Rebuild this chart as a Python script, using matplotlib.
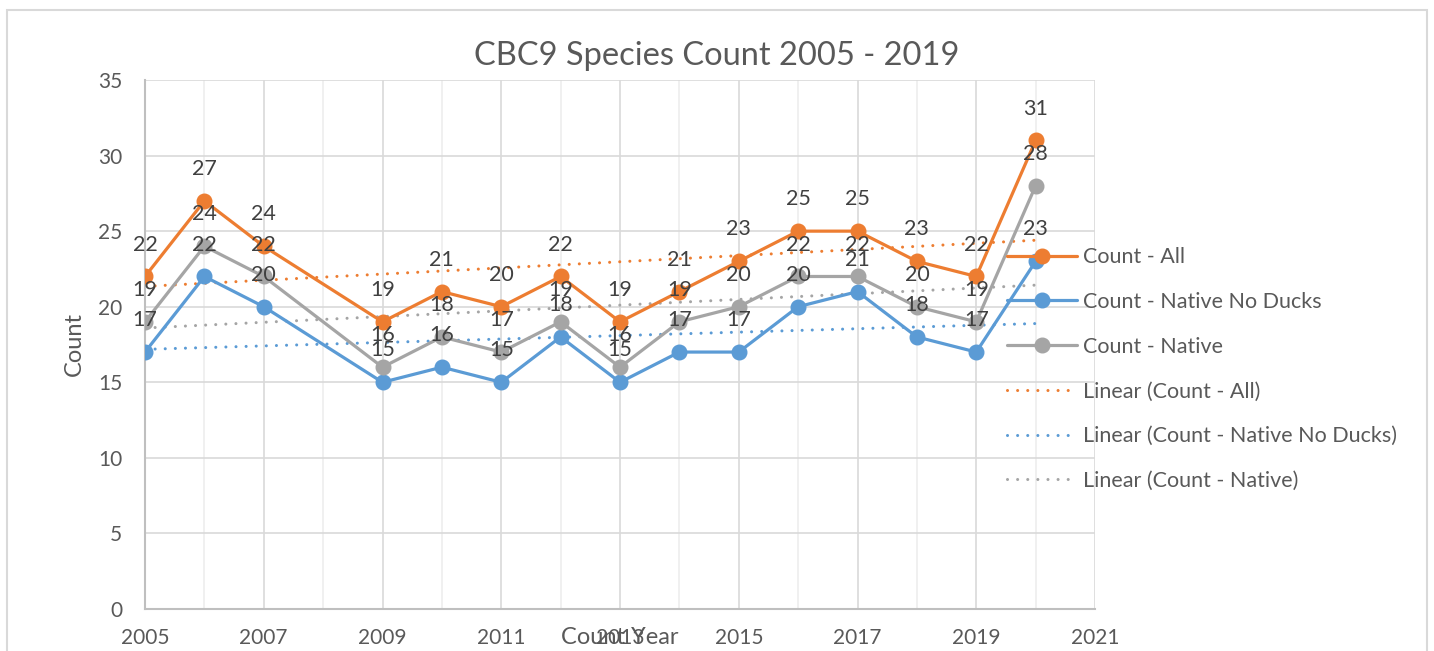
import matplotlib
matplotlib.use("Agg")
import matplotlib.pyplot as plt
from matplotlib.patches import Rectangle
import numpy as np

plt.rcParams['font.family'] = ['Lato', 'DejaVu Sans']

years = [2005, 2006, 2007, 2009, 2010, 2011, 2012, 2013, 2014, 2015, 2016, 2017, 2018, 2019, 2020]
count_all = [22, 27, 24, 19, 21, 20, 22, 19, 21, 23, 25, 25, 23, 22, 31]
count_native_no_ducks = [17, 22, 20, 15, 16, 15, 18, 15, 17, 17, 20, 21, 18, 17, 23]
count_native = [19, 24, 22, 16, 18, 17, 19, 16, 19, 20, 22, 22, 20, 19, 28]

series = [
    ("Count - All", count_all, "#ED7D31"),
    ("Count - Native No Ducks", count_native_no_ducks, "#5B9BD5"),
    ("Count - Native", count_native, "#A5A5A5"),
]

text_col = "#595959"
label_col = "#404040"

fig = plt.figure(figsize=(14.34, 6.51), dpi=100)
ax = fig.add_axes([145/1434, 1-609/651, 950/1434, 529/651])

# outer chart frame
fig.patches.append(Rectangle((7/1434, -0.05), 1420/1434, 1.05 - 10/651,
                             transform=fig.transFigure, fill=False,
                             edgecolor="#D9D9D9", linewidth=1.5))

x = np.array(years, dtype=float)
line_handles = []
for i, (name, vals, col) in enumerate(series):
    h, = ax.plot(x, vals, color=col, lw=2.3, marker='o', ms=10.5,
                 solid_capstyle='round', zorder=3 + i, label=name)
    line_handles.append(h)
    for xv, yv in zip(x, vals):
        ax.annotate(str(yv), (xv, yv), xytext=(0, 23), textcoords='offset points',
                    ha='center', va='center', fontsize=15.5, color=label_col, zorder=10)

trend_handles = []
for name, vals, col in series:
    k, b = np.polyfit(x, vals, 1)
    xs = np.array([x[0], x[-1]])
    h, = ax.plot(xs, k * xs + b, color=col, lw=2.2, linestyle=(0, (0.01, 3.3)),
                 dash_capstyle='round', zorder=2, label="Linear (%s)" % name)
    trend_handles.append(h)

ax.set_xlim(2005, 2021)
ax.set_ylim(0, 35)
ax.set_xticks(np.arange(2005, 2022, 2))
ax.set_xticks(np.arange(2005, 2022, 1), minor=True)
ax.set_yticks(np.arange(0, 36, 5))
ax.grid(which='major', color="#D9D9D9", lw=1.2, zorder=0)
ax.grid(which='minor', axis='x', color="#EDEDED", lw=1.2, zorder=0)
ax.set_axisbelow(True)
ax.tick_params(which='both', length=0, labelsize=15, labelcolor=text_col)
ax.tick_params(axis='x', pad=14)
ax.tick_params(axis='y', pad=16.5)
for s in ['top', 'right']:
    ax.spines[s].set_visible(False)
for s in ['left', 'bottom']:
    ax.spines[s].set_color("#BFBFBF")
    ax.spines[s].set_linewidth(1.5)

fig.text(717/1434, 1-56/651, "CBC9 Species Count 2005 - 2019", ha='center', va='center',
         fontsize=23.5, color=text_col)
ax.text(0.5, -28/529, "Count Year", transform=ax.transAxes, ha='center', va='center',
        fontsize=17, color=text_col)
ax.text(-71/950, 0.5, "Count", transform=ax.transAxes, rotation=90, ha='center',
        va='center', fontsize=17, color=text_col)

leg = fig.legend(line_handles + trend_handles,
                 [h.get_label() for h in line_handles + trend_handles],
                 loc='center left', bbox_to_anchor=(988/1434, 1-369/651),
                 frameon=False, fontsize=15.5, handlelength=3.25, labelspacing=1.15,
                 handletextpad=0.28, labelcolor=text_col)

fig.savefig("out.png", dpi=100)
